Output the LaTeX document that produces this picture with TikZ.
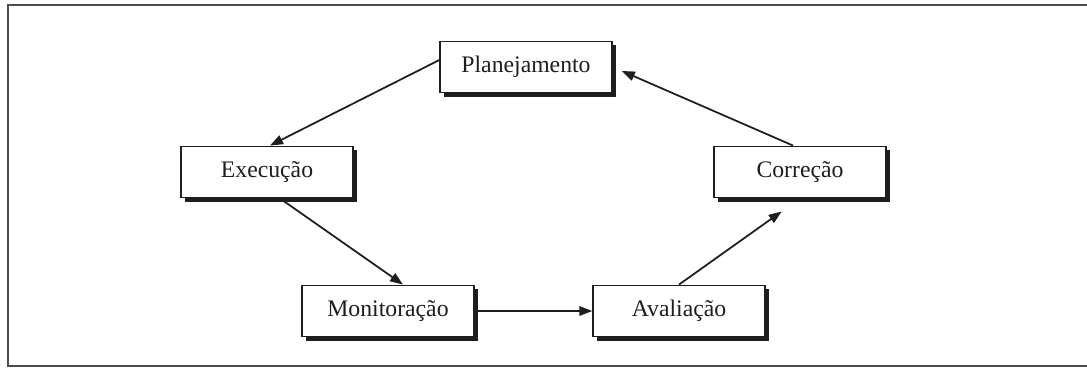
\documentclass[tikz,border=0pt]{standalone}
\usepackage{fontspec}
\setmainfont{Liberation Serif}
\usepackage{tikz}
\usetikzlibrary{arrows.meta, positioning, shadows}

\definecolor{InkGray}{RGB}{30, 30, 30}

\begin{document}
\begin{tikzpicture}[
        x=0.02cm, y=-0.02cm,
        box/.style={rectangle, draw=InkGray, line width=0.8pt, fill=white, minimum width=3.44cm, minimum height=1.03cm,
            font=\fontsize{13.5}{16}\selectfont, text=InkGray,
            drop shadow={shadow xshift=0.08cm, shadow yshift=-0.08cm, fill=InkGray, opacity=1}},
        arrow/.style={-{Triangle[length=0.26cm, width=0.19cm]}, line width=1pt, InkGray}
    ]
        \useasboundingbox (0,0) rectangle (1087,369);

        % outer frame
        \draw[black!70, line width=1.4pt] (1095,5) -- (8,5) -- (8,366) -- (1095,366);

        % stages of the cycle
        \node[box] (plan) at (526, 67) {Planejamento};
        \node[box] (exec) at (267, 172) {Execução};
        \node[box] (corr) at (800, 172) {Correção};
        \node[box] (mon) at (388, 311) {Monitoração};
        \node[box] (aval) at (679, 311) {Avaliação};

        % arrows between stages
        \draw[arrow] ([yshift=0.14cm]plan.west) -- ([xshift=0.06cm]exec.north);
        \draw[arrow] ([xshift=0.26cm]exec.south) -- ([xshift=0.3cm]mon.north);
        \draw[arrow] (mon.east) -- (aval.west);
        \draw[arrow, shorten >=0.45cm] (aval.north) -- (corr.south);
        \draw[arrow, shorten >=0.2cm] ([xshift=-0.14cm]corr.north) -- (plan.east);
    \end{tikzpicture}
\end{document}
